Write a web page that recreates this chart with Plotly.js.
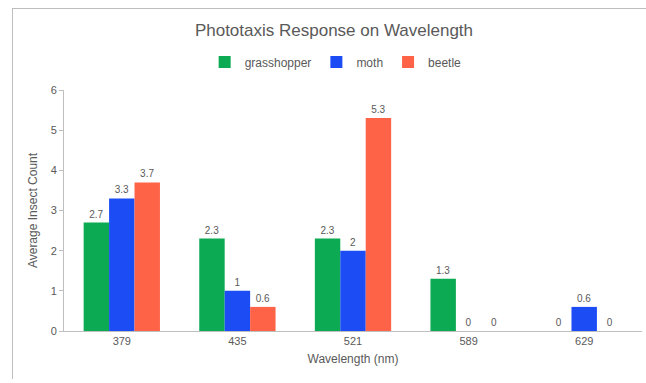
<!DOCTYPE html>
<html><head><meta charset="utf-8">
<script src="https://cdn.plot.ly/plotly-3.0.1.min.js"></script>
<style>
html,body{margin:0;padding:0;background:#fff;}
#frame{position:absolute;left:12px;top:8px;width:640px;height:370px;border-top:1px solid #bdbdbd;border-left:1px solid #bdbdbd;pointer-events:none;z-index:5;}
#chart{width:646px;height:383px;}
</style></head>
<body>
<div id="frame"></div>
<div id="chart"></div>
<script>
const categories = ["379", "435", "521", "589", "629"];
const grasshopper = [2.7, 2.3, 2.3, 1.3, 0];
const moth = [3.3, 1, 2, 0, 0.6];
const beetle = [3.7, 0.6, 5.3, 0, 0];
const seriesNames = ["grasshopper", "moth", "beetle"];
const colors = ["#0BAA53", "#1B4CF4", "#FF6347"];

const seriesVals = [grasshopper, moth, beetle];
const traces = seriesVals.map((vals, i) => ({
  type: "bar",
  name: seriesNames[i],
  x: categories,
  y: vals,
  marker: {color: colors[i]},
  text: vals.map(v => String(v)),
  textposition: "outside",
  textfont: {size: 10, color: "#595959"},
  cliponaxis: false,
  hoverinfo: "x+y+name"
}));

const layout = {
  width: 646, height: 383,
  margin: {l: 64, r: 4, t: 90, b: 52},
  paper_bgcolor: "#fff", plot_bgcolor: "#fff",
  font: {family: "Liberation Sans, Arial, sans-serif", color: "#595959"},
  title: {text: "Phototaxis Response on Wavelength", font: {size: 17, color: "#595959"},
          x: 0.517, xanchor: "center", xref: "container", y: 0.922, yanchor: "middle", yref: "container"},
  barmode: "group",
  bargap: 0.34,
  bargroupgap: 0,
  showlegend: true,
  legend: {orientation: "h", x: 0.47, xanchor: "center", y: 1.116, yanchor: "middle",
           font: {size: 12, color: "#595959"}, itemwidth: 30, traceorder: "normal"},
  xaxis: {type: "category", showgrid: false, showline: true, linecolor: "#bfbfbf", linewidth: 1,
          ticks: "", tickfont: {size: 11, color: "#595959"},
          title: {text: "Wavelength (nm)", font: {size: 12, color: "#595959"}, standoff: 8}},
  yaxis: {range: [0, 6], dtick: 1, showgrid: false, zeroline: false, showline: true, linecolor: "#bfbfbf",
          linewidth: 1, ticks: "outside", ticklen: 4, tickcolor: "#bfbfbf",
          tickfont: {size: 11, color: "#595959"},
          title: {text: "Average Insect Count", font: {size: 12, color: "#595959"}, standoff: 10}}
};

Plotly.newPlot("chart", traces, layout, {displayModeBar: false, staticPlot: true});
</script>
</body></html>
